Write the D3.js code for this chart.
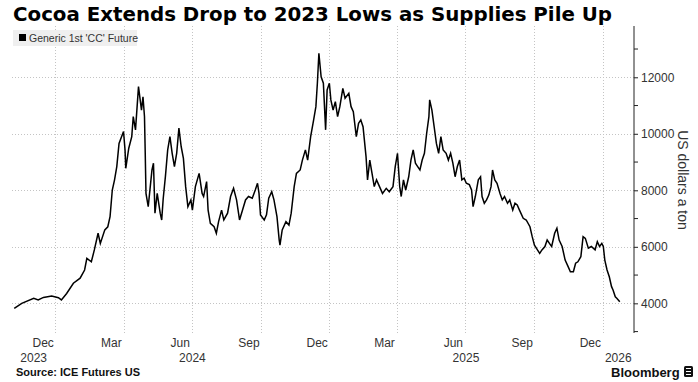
<!DOCTYPE html>
<meta charset="utf-8">
<title>Cocoa</title>
<style>
body { margin: 0; background: #fff; font-family: "Liberation Sans", Arial, sans-serif; }
.grid line { stroke: #c4c4c4; stroke-width: 1; stroke-dasharray: 1,2; shape-rendering: crispEdges; }
.grid path { display: none; }
.price { fill: none; stroke: #000; stroke-width: 1.5; stroke-linejoin: miter; }
.tick text { fill: #333; }
</style>
<body>
<script src="https://d3js.org/d3.v7.min.js"></script>
<script>

// price points (Generic 1st 'CC' Future, USD/ton)
var dates = [
  "2023-11-07","2023-11-17","2023-12-03","2023-12-09","2023-12-16","2023-12-27",
  "2024-01-05","2024-01-09","2024-01-16","2024-01-25","2024-02-03","2024-02-09","2024-02-12","2024-02-18","2024-02-22","2024-02-27",
  "2024-03-01","2024-03-07","2024-03-11","2024-03-14","2024-03-17","2024-03-20","2024-03-23","2024-03-26",
  "2024-04-01","2024-04-03","2024-04-04","2024-04-08","2024-04-12","2024-04-14","2024-04-17","2024-04-21","2024-04-25","2024-04-27","2024-04-29","2024-04-30",
  "2024-05-01","2024-05-04","2024-05-09","2024-05-11","2024-05-13","2024-05-16","2024-05-20","2024-05-22","2024-05-24","2024-05-27","2024-05-30",
  "2024-06-02","2024-06-05","2024-06-08","2024-06-11","2024-06-14","2024-06-17","2024-06-20","2024-06-23","2024-06-26","2024-06-30",
  "2024-07-02","2024-07-06","2024-07-11","2024-07-15","2024-07-17","2024-07-21","2024-07-23","2024-07-26","2024-07-31",
  "2024-08-03","2024-08-06","2024-08-10","2024-08-13","2024-08-18","2024-08-22","2024-08-26","2024-08-30",
  "2024-09-03","2024-09-07","2024-09-11","2024-09-15","2024-09-20","2024-09-24","2024-09-27","2024-09-29",
  "2024-10-01","2024-10-06","2024-10-09","2024-10-12","2024-10-16","2024-10-19","2024-10-23","2024-10-26","2024-10-27","2024-10-30",
  "2024-11-04","2024-11-08","2024-11-11","2024-11-15","2024-11-18","2024-11-23","2024-11-26","2024-11-30",
  "2024-12-03","2024-12-07","2024-12-11","2024-12-14","2024-12-16","2024-12-18","2024-12-21","2024-12-24","2024-12-27","2024-12-29",
  "2025-01-01","2025-01-03","2025-01-06","2025-01-09","2025-01-12","2025-01-15","2025-01-19","2025-01-22","2025-01-27","2025-01-30",
  "2025-02-02","2025-02-06","2025-02-09","2025-02-12","2025-02-15","2025-02-19","2025-02-21","2025-02-24","2025-02-27",
  "2025-03-02","2025-03-05","2025-03-09","2025-03-13","2025-03-18","2025-03-22","2025-03-27","2025-03-30",
  "2025-04-02","2025-04-05","2025-04-07","2025-04-10","2025-04-13","2025-04-17","2025-04-20","2025-04-23","2025-04-26","2025-04-29",
  "2025-05-02","2025-05-05","2025-05-08","2025-05-11","2025-05-14","2025-05-15","2025-05-18","2025-05-21","2025-05-24","2025-05-27","2025-05-30",
  "2025-06-02","2025-06-06","2025-06-09","2025-06-12","2025-06-15","2025-06-18","2025-06-21","2025-06-24","2025-06-27","2025-06-30",
  "2025-07-03","2025-07-07","2025-07-10","2025-07-12","2025-07-15","2025-07-19","2025-07-22","2025-07-24","2025-07-27","2025-07-30",
  "2025-08-02","2025-08-05","2025-08-07","2025-08-10","2025-08-13","2025-08-17","2025-08-20","2025-08-23","2025-08-27","2025-08-30",
  "2025-09-03","2025-09-06","2025-09-09","2025-09-12","2025-09-17","2025-09-21","2025-09-26","2025-09-29",
  "2025-10-02","2025-10-06","2025-10-09","2025-10-12","2025-10-16","2025-10-19","2025-10-22","2025-10-25","2025-10-29",
  "2025-11-01","2025-11-04","2025-11-08","2025-11-12","2025-11-16","2025-11-19","2025-11-23","2025-11-26","2025-11-29",
  "2025-12-03","2025-12-06","2025-12-09","2025-12-13","2025-12-17","2025-12-22","2025-12-25","2025-12-28","2025-12-31",
  "2026-01-02","2026-01-04","2026-01-07","2026-01-10","2026-01-13","2026-01-15","2026-01-18","2026-01-20","2026-01-24"
];
var prices = [
  3820,4000,4180,4120,4210,4260,
  4200,4120,4350,4710,4890,5180,5590,5470,5890,6480,
  6120,6600,6710,7070,8010,8370,8840,9660,
  10080,9430,8780,9490,9900,10610,10140,11670,10840,11310,10610,9310,
  7890,7420,8720,8960,7190,7890,7190,6950,7700,8500,9430,
  9900,9310,8840,9310,10200,9550,9130,8130,7420,7660,
  7300,8130,8600,7890,7780,8310,7300,6830,6710,
  6480,6890,7300,6950,7190,7780,8070,7660,
  6950,7300,7660,7780,7720,8010,8250,7890,
  7130,6950,7130,7720,7950,7660,7070,6240,6060,6600,
  6890,6770,7190,8130,8600,8720,9070,9430,
  9070,9900,10490,10960,11800,12850,12020,11790,10140,11550,
  11790,11200,10840,11140,10610,10960,11610,11260,11430,10960,
  10780,9900,10370,10490,10250,9190,8370,9070,8600,
  8130,8370,8130,7890,8070,7950,8130,8840,
  9310,8130,7780,8370,8010,8480,9070,9430,8960,8840,
  8720,9070,9310,10020,10610,11200,10840,10250,9660,9310,9900,
  9430,9310,9070,9310,8960,8480,8840,9070,8370,8430,
  8250,8200,8010,7420,7780,8370,8480,7780,7540,7660,
  7830,8130,8720,8370,8250,7890,7660,7780,7540,7660,
  7300,7540,7480,7300,7010,6950,6710,6360,
  6060,5890,5770,5890,6010,6240,6120,6010,6480,
  6660,6240,6010,5530,5300,5120,5120,5420,5470,
  5650,6360,6300,5950,6010,5890,6180,6010,6120,
  6010,5530,5180,4940,4590,4470,4230,4180,4060
];

var priceTicks = [4000, 6000, 8000, 10000, 12000];
var minorTicks = [3000, 5000, 7000, 9000, 11000, 13000];
var monthTicks = ["2023-12-15","2024-03-15","2024-06-15","2024-09-15","2024-12-15","2025-03-15","2025-06-15","2025-09-15","2025-12-15"];
var monthLabels = ["Dec","Mar","Jun","Sep","Dec","Mar","Jun","Sep","Dec"];
var yearLabels = ["2023","2024","2025","2026"];

var W = 698, H = 382;
var plotL = 12, plotR = 634, plotT = 26, plotB = 333;

var parseDate = d3.timeParse("%Y-%m-%d");
var data = dates.map(function(d, i) { return {date: parseDate(d), value: prices[i]}; });

var x = d3.scaleTime()
  .domain([parseDate("2023-11-04"), parseDate("2026-02-12")])
  .range([plotL, plotR]);
var y = d3.scaleLinear()
  .domain([2950, 13815])
  .range([plotB, plotT]);

var svg = d3.select("body").append("svg")
  .attr("width", W)
  .attr("height", H);

// title
svg.append("text")
  .attr("x", 13).attr("y", 21)
  .attr("textLength", 599)
  .attr("lengthAdjust", "spacingAndGlyphs")
  .style("font-family", "DejaVu Sans, sans-serif")
  .style("font-size", "20px").style("font-weight", "bold").style("fill", "#000")
  .text("Cocoa Extends Drop to 2023 Lows as Supplies Pile Up");

// horizontal grid
svg.append("g")
  .attr("class", "grid")
  .attr("transform", "translate(" + plotR + ",0)")
  .call(d3.axisLeft(y).tickValues(priceTicks).tickSize(plotR - plotL).tickFormat(""));

// vertical grid at quarter starts
svg.append("g")
  .attr("class", "grid")
  .attr("transform", "translate(0," + plotB + ")")
  .call(d3.axisTop(x).ticks(d3.timeMonth.every(3)).tickSize(plotB - plotT).tickFormat(""));

// legend
var legend = svg.append("g");
legend.append("rect")
  .attr("x", 13).attr("y", 30).attr("width", 124).attr("height", 16)
  .attr("fill", "#efefef");
legend.append("rect")
  .attr("x", 19).attr("y", 34).attr("width", 7).attr("height", 7)
  .attr("fill", "#000");
legend.append("text")
  .attr("x", 29).attr("y", 41.5)
  .style("font-size", "10.5px").style("fill", "#333")
  .text("Generic 1st 'CC' Future");

// price line
var line = d3.line()
  .x(function(d) { return x(d.date); })
  .y(function(d) { return y(d.value); });

svg.append("path")
  .datum(data)
  .attr("class", "price")
  .attr("d", line);

// right axis
var yAxis = svg.append("g")
  .attr("transform", "translate(" + plotR + ",0)")
  .call(d3.axisRight(y).tickValues(priceTicks).tickSize(4).tickPadding(3).tickFormat(d3.format("d")));
yAxis.select(".domain").attr("d", "M0," + plotT + "V" + plotB).attr("stroke", "#222");
yAxis.selectAll(".tick line").attr("stroke", "#222");
yAxis.selectAll(".tick text").style("font-size", "12px").style("font-family", "Liberation Sans, Arial, sans-serif");

svg.append("g")
  .selectAll("line")
  .data(minorTicks)
  .enter().append("line")
  .attr("x1", plotR).attr("x2", plotR + 4)
  .attr("y1", function(d) { return y(d); })
  .attr("y2", function(d) { return y(d); })
  .attr("stroke", "#222");

svg.append("text")
  .attr("transform", "translate(678,180) rotate(90)")
  .attr("text-anchor", "middle")
  .style("font-size", "14px").style("fill", "#333")
  .text("US dollars a ton");

// month labels
var xAxis = svg.append("g")
  .attr("transform", "translate(0," + (plotB + 3) + ")")
  .call(d3.axisBottom(x)
    .tickValues(monthTicks.map(parseDate))
    .tickSize(0).tickPadding(0)
    .tickFormat(function(d, i) { return monthLabels[i]; }));
xAxis.select(".domain").remove();
xAxis.selectAll(".tick text")
  .attr("dy", null).attr("y", 11)
  .style("font-size", "12px").style("font-family", "Liberation Sans, Arial, sans-serif");

// year labels centred on the visible part of each year
var d0 = x.domain()[0], d1 = x.domain()[1];
svg.append("g")
  .selectAll("text")
  .data(yearLabels)
  .enter().append("text")
  .attr("x", function(yr) {
    var a = new Date(+yr, 0, 1), b = new Date(+yr + 1, 0, 1);
    if (a < d0) a = d0;
    if (b > d1) b = d1;
    return (x(a) + x(b)) / 2;
  })
  .attr("y", 362)
  .attr("text-anchor", "middle")
  .style("font-size", "12px").style("fill", "#333")
  .text(function(yr) { return yr; });

// footer
svg.append("text")
  .attr("x", 16).attr("y", 376)
  .style("font-size", "11px").style("font-weight", "bold").style("fill", "#111")
  .text("Source: ICE Futures US");

svg.append("text")
  .attr("x", 611).attr("y", 377)
  .style("font-size", "13px").style("font-weight", "bold").style("fill", "#111")
  .text("Bloomberg");
svg.append("rect")
  .attr("x", 684).attr("y", 366).attr("width", 9).attr("height", 11).attr("rx", 1.5)
  .attr("fill", "#111");
svg.append("path")
  .attr("d", "M686,368.5H691M686,371.5H691M686,374.5H691")
  .attr("stroke", "#fff").attr("stroke-width", 1);

</script>
</body>
